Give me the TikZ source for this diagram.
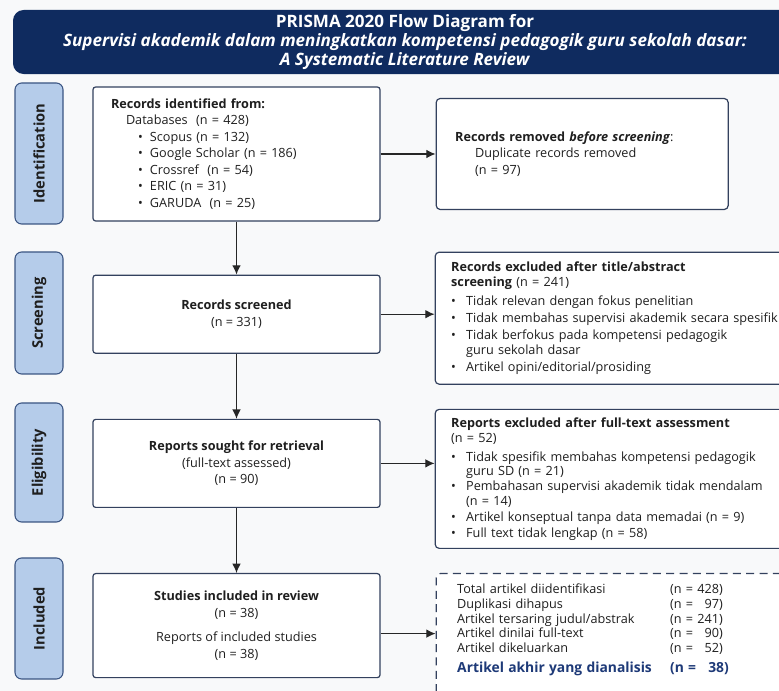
\documentclass[tikz,border=0pt]{standalone}
\usepackage{fontspec}
\setmainfont{Open Sans}
\usetikzlibrary{shapes,arrows.meta,positioning}
\definecolor{navy}{HTML}{0F2B5F}
\definecolor{phasefill}{HTML}{B5CCEA}
\definecolor{phaseline}{HTML}{3B5583}
\definecolor{boxline}{HTML}{33415E}
\definecolor{ink}{HTML}{1F1F1F}
\definecolor{accent}{HTML}{1E3A78}
\definecolor{bgcol}{HTML}{F8F9FA}
\newcommand{\bul}[1][11.25pt]{\makebox[#1][l]{\textbullet}}
\newcommand{\ind}{\hspace*{11.25pt}}
\tikzstyle{title}=[rectangle,fill=navy,rounded corners=8pt,minimum width=588pt,minimum height=45.75pt,align=center,text=white,font=\fontsize{12.8}{14.25}\selectfont\bfseries]
\tikzstyle{phase}=[rectangle,draw=phaseline,fill=phasefill,rounded corners=5pt,line width=0.8pt,rotate=90,minimum height=36pt,text=ink,font=\fontsize{11}{13}\selectfont\bfseries]
\tikzstyle{proc}=[rectangle,draw=boxline,fill=white,rounded corners=2pt,line width=0.9pt,minimum width=215.25pt,align=center,text=ink,font=\fontsize{9.5}{12.4}\selectfont]
\tikzstyle{side}=[rectangle,draw=boxline,fill=white,rounded corners=3pt,line width=0.9pt,align=left,text=ink,font=\fontsize{9.5}{10.9}\selectfont]
\tikzstyle{sumbox}=[side,dash pattern=on 6pt off 4pt]
\tikzstyle{arr}=[-{Latex[length=7pt,width=6.5pt]},line width=0.9pt,draw=black!85]

\begin{document}
\begin{tikzpicture}[x=0.75pt,y=-0.75pt]
\useasboundingbox (0,0) rectangle (779,691);
\clip (0,0) rectangle (779,691);
\fill[bgcol] (0,0) rectangle (779,691);
\node[title] (T) at (405,42) {PRISMA 2020 Flow Diagram for\\ \textit{Supervisi akademik dalam meningkatkan kompetensi pedagogik guru sekolah dasar:}\\ \textit{A Systematic Literature Review}};
\node[phase, minimum width=105.75pt] (PA) at (39,153.5) {Identification};
\node[phase, minimum width=91.5pt] (PB) at (39,313) {Screening};
\node[phase, minimum width=89.25pt] (PC) at (39,462.5) {Eligibility};
\node[phase, minimum width=90.75pt] (PD) at (39,618.5) {Included};
\node[proc, align=left, text width=188.25pt, inner xsep=13.5pt, minimum height=100.5pt] (A) at (236.5,154) {\textbf{Records identified from:}\\ \hspace*{11.25pt}Databases\ \ (n = 428)\\ \hspace*{20.25pt}\bul[9pt]Scopus\ (n = 132)\\ \hspace*{20.25pt}\bul[9pt]Google Scholar (n = 186)\\ \hspace*{20.25pt}\bul[9pt]Crossref\ \ (n = 54)\\ \hspace*{20.25pt}\bul[9pt]ERIC (n = 31)\\ \hspace*{20.25pt}\bul[9pt]GARUDA\ \ (n = 25)};
\node[proc, minimum height=58.5pt, below=39.75pt of A] (B) {\textbf{Records screened}\\ (n = 331)};
\node[proc, minimum height=66pt, below=48.75pt of B] (C) {\textbf{Reports sought for retrieval}\\ (full-text assessed)\\ (n = 90)};
\node[proc, minimum height=78pt, below=48.75pt of C] (D) {\textbf{Studies included in review}\\ (n = 38)\\[6pt] Reports of included studies\\ (n = 38)};
\node[side, text width=190.5pt, inner xsep=14.25pt, minimum width=219pt, minimum height=83.25pt, right=41.25pt of A] (E) {\textbf{Records removed \textit{before screening}}:\\[1pt] \hspace*{15pt}Duplicate records removed\\[2pt] \hspace*{15pt}(n = 97)};
\node[side, text width=260pt, inner xsep=12pt, minimum height=99pt, right=40.5pt of B, yshift=-3pt] (F) {\textbf{Records excluded after title/abstract}\\[0.5pt] \textbf{screening} (n = 241)\\[3pt] \bul Tidak relevan dengan fokus penelitian\\[2pt] \bul Tidak membahas supervisi akademik secara spesifik\\[2pt] \bul Tidak berfokus pada kompetensi pedagogik\\ \ind guru sekolah dasar\\[2pt] \bul Artikel opini/editorial/prosiding};
\node[side, text width=260pt, inner xsep=12pt, minimum height=104.25pt, right=40.5pt of C, yshift=-11.6pt] (G) {\textbf{Reports excluded after full-text assessment}\\[0.5pt] (n = 52)\\[3pt] \bul Tidak spesifik membahas kompetensi pedagogik\\ \ind guru SD (n = 21)\\[0.5pt] \bul Pembahasan supervisi akademik tidak mendalam\\ \ind (n = 14)\\[1pt] \bul Artikel konseptual tanpa data memadai (n = 9)\\[1pt] \bul Full text tidak lengkap (n = 58)};
\node[sumbox, text width=260pt, inner xsep=15.75pt, minimum height=93pt, right=41.25pt of D, yshift=-7.5pt] (H) {\noindent\begin{tabular}{@{}p{159.75pt}@{}l@{}}
Total artikel diidentifikasi & (n = 428)\\
Duplikasi dihapus & (n = \phantom{0}97)\\
Artikel tersaring judul/abstrak & (n = 241)\\
Artikel dinilai full-text & (n = \phantom{0}90)\\
Artikel dikeluarkan & (n = \phantom{0}52)\\[4pt]
\textcolor{accent}{\fontsize{10.4}{13}\selectfont\bfseries Artikel akhir yang dianalisis} & \textcolor{accent}{\fontsize{10.4}{13}\selectfont\bfseries (n = \phantom{0}38)}\\[8pt]
\end{tabular}};
\draw[arr] (A) -- (B);
\draw[arr] (B) -- (C);
\draw[arr] (C) -- (D);
\draw[arr] (A) -- (E);
\draw[arr] (B.east) -- (B.east -| F.west);
\draw[arr] (C.east) -- (C.east -| G.west);
\draw[arr] ([yshift=-6pt]D.east) -- ([yshift=-6pt]D.east -| H.west);
\end{tikzpicture}
\end{document}
